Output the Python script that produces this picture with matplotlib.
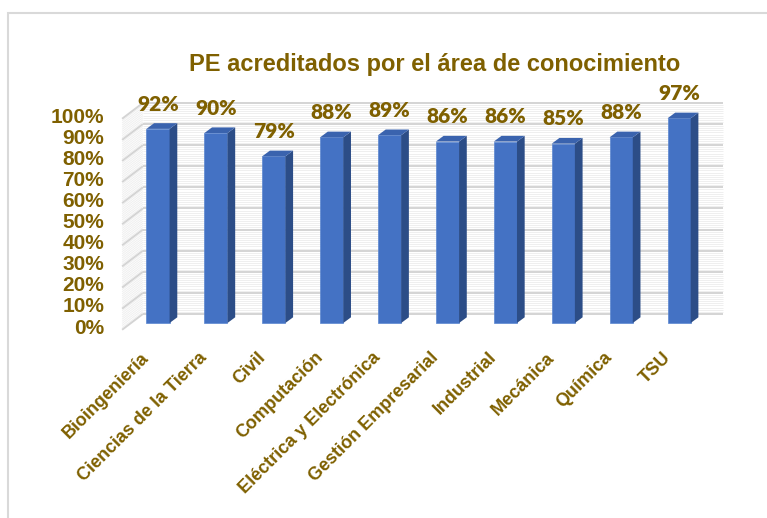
import matplotlib
matplotlib.use("Agg")
import matplotlib.pyplot as plt
import matplotlib.patches as patches
import numpy as np

# data
areas = ["Bioingeniería", "Ciencias de la Tierra", "Civil", "Computación",
         "Eléctrica y Electrónica", "Gestión Empresarial", "Industrial",
         "Mecánica", "Química", "TSU"]
values = [92, 90, 79, 88, 89, 86, 86, 85, 88, 97]
y_ticks = [0, 10, 20, 30, 40, 50, 60, 70, 80, 90, 100]
title = "PE acreditados por el área de conocimiento"

txt_color = "#7F6000"
front_c = "#4472C4"
side_c = "#2C4D87"
top_c = "#3A63AE"
grid_c = "#D4D4D4"
stripe_c = "#EFEFEF"

W, H = 767, 518
fig = plt.figure(figsize=(W / 100, H / 100), dpi=100)

# outer border (light gray)
fig.add_artist(patches.Rectangle((8 / W, -0.1), 1.2, 1 - 13 / H + 0.1, transform=fig.transFigure,
                                 fill=False, edgecolor="#D9D9D9", linewidth=1.5))

# axes placed by pixel layout
x0_px, step_px = 158, 57.9        # first bar centre, spacing
y0_px, scale_px = 323, 2.11       # 0% baseline, px per %
left, right, top, bottom = 110, 745, 95, 340
ax = fig.add_axes([left / W, 1 - bottom / H, (right - left) / W, (bottom - top) / H])
ax.set_xlim((left - x0_px) / step_px, (right - x0_px) / step_px)
ax.set_ylim((y0_px - bottom) / scale_px, (y0_px - top) / scale_px)
ax.axis("off")

# 3D wall geometry (data units)
back_x0, back_x1, back_dy = -0.26, 9.76, 4.3
side_x0, side_dy = -0.62, -3.2

# stripes + gridlines on back and side walls
for v in np.arange(0, 100.01, 1.0):
    major = v in y_ticks
    c, lw = (grid_c, 1.4) if major else (stripe_c, 0.7)
    ax.plot([back_x0, back_x1], [v + back_dy, v + back_dy], color=c, lw=lw, zorder=1 if major else 0,
            solid_capstyle="butt")
    ax.plot([side_x0, back_x0], [v + side_dy, v + back_dy], color=c, lw=lw, zorder=1 if major else 0,
            solid_capstyle="butt")

# bars with 3D faces
bw, dx, dz = 0.40, 0.133, 2.7
xs = np.arange(len(values))
ax.bar(xs, values, width=bw, color=front_c, edgecolor="#5A86D0", linewidth=0.5, zorder=3)
for x, v in zip(xs, values):
    r = x + bw / 2
    l = x - bw / 2
    ax.fill([r, r + dx, r + dx, r], [0, dz, v + dz, v], color=side_c, zorder=3, lw=0)
    ax.fill([l, l + dx, r + dx, r], [v, v + dz, v + dz, v], color=top_c, zorder=3, lw=0)
    ax.text(x, v + dz + 9, f"{v}%", ha="center", va="center", fontsize=15, fontweight="heavy",
            family="Lato", color=txt_color, zorder=4)

# y tick labels
for t in y_ticks:
    ax.text((104 - x0_px) / step_px, t - 2.4, f"{t}%", ha="right", va="center", fontsize=15,
            fontweight="bold", family="Liberation Sans", color=txt_color, clip_on=False)

# category labels
for x, name in zip(xs, areas):
    ax.text(x - 0.09, -12.3, name, rotation=45, ha="right", va="top",
            fontsize=13, fontweight="bold", family="Liberation Sans", color=txt_color, clip_on=False)

fig.text(435 / W, 1 - 65 / H, title, ha="center", va="center", fontsize=17, fontweight="bold",
         family="Liberation Sans", color=txt_color)

fig.savefig("out.png", dpi=100)
